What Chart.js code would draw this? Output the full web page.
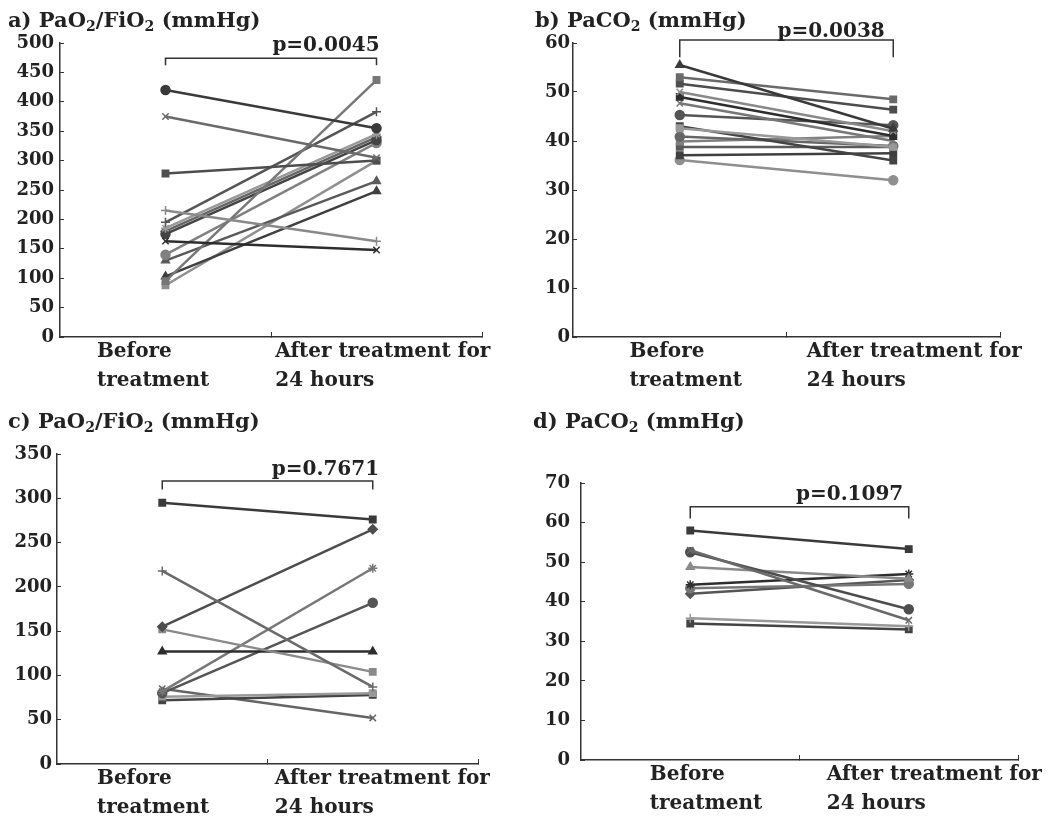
<!DOCTYPE html>
<html>
<head>
<meta charset="utf-8">
<script src="https://cdn.jsdelivr.net/npm/chart.js@4.4.1/dist/chart.umd.min.js"></script>
<style>
  body { margin: 0; background: #fff; }
  #wrap { position: relative; width: 1048px; height: 820px; }
  .panel { position: absolute; }
  .title {
    position: absolute;
    font-family: "DejaVu Serif", serif;
    font-weight: bold;
    font-size: 21px;
    color: #222;
    white-space: nowrap;
  }
  .title sub { font-size: 14px; vertical-align: -4px; line-height: 0; }
</style>
</head>
<body>
<div id="wrap">
  <div class="panel" style="left:0;top:0;width:520px;height:400px"><canvas id="chartA"></canvas></div>
  <div class="panel" style="left:520px;top:0;width:528px;height:400px"><canvas id="chartB"></canvas></div>
  <div class="panel" style="left:0;top:400px;width:520px;height:420px"><canvas id="chartC"></canvas></div>
  <div class="panel" style="left:520px;top:400px;width:528px;height:420px"><canvas id="chartD"></canvas></div>

  <div class="title" style="left:8px;top:7px">a) PaO<sub>2</sub>/FiO<sub>2</sub> (mmHg)</div>
  <div class="title" style="left:535px;top:7px">b) PaCO<sub>2</sub> (mmHg)</div>
  <div class="title" style="left:8px;top:408px">c) PaO<sub>2</sub>/FiO<sub>2</sub> (mmHg)</div>
  <div class="title" style="left:533px;top:408px">d) PaCO<sub>2</sub> (mmHg)</div>
</div>

<script>
// x categories (before / after), labels under the axis
const xLabels = [["Before", "treatment"], ["After treatment for", "24 hours"]];
const timePoints = [1, 3];

// a) PaO2/FiO2, group 1
const beforeA = [420, 375, 278, 215, 163, 95, 195, 185, 175, 180, 140, 130, 103, 88];
const afterA  = [355, 305, 300, 163, 148, 437, 383, 345, 335, 340, 330, 265, 248, 300];
const pValueA = "p=0.0045";
const yTicksA = [0, 50, 100, 150, 200, 250, 300, 350, 400, 450, 500];

// b) PaCO2, group 1
const beforeB = [55.5, 53, 51.7, 50, 49, 47.7, 45.3, 42.6, 43, 40.9, 39.9, 38.8, 37.1, 36.1];
const afterB  = [42.5, 48.5, 46.4, 42, 41, 40, 43.2, 38.8, 36, 39, 41, 38.8, 37.5, 32];
const pValueB = "p=0.0038";
const yTicksB = [0, 10, 20, 30, 40, 50, 60];

// c) PaO2/FiO2, group 2
const beforeC = [295, 218, 155, 152, 127, 82, 80, 76, 72, 85];
const afterC  = [276, 87, 265, 104, 127, 221, 182, 80, 78, 52];
const pValueC = "p=0.7671";
const yTicksC = [0, 50, 100, 150, 200, 250, 300, 350];

// d) PaCO2, group 2
const beforeD = [58, 53, 52.5, 48.8, 44.3, 43.4, 42, 35.8, 34.5];
const afterD  = [53.3, 35.3, 38.1, 45.8, 47, 44.5, 45.5, 33.8, 33];
const pValueD = "p=0.1097";
const yTicksD = [0, 10, 20, 30, 40, 50, 60, 70];

// marker shapes per patient
const markersA = ["circle", "crossRot", "rect", "cross", "crossRot", "rect", "cross",
                  "star", "circle", "rectRot", "circle", "triangle", "triangle", "rect"];
const markersB = ["triangle", "rect", "rect", "crossRot", "rect", "crossRot", "circle",
                  "rect", "rect", "circle", "rect", "rect", "rect", "circle"];
const markersC = ["rect", "cross", "rectRot", "rect", "triangle", "star", "circle", "rect", "rect", "crossRot"];
const markersD = ["rect", "crossRot", "circle", "triangle", "star", "circle", "rectRot", "cross", "rect"];

const greys = ["#3a3a3a", "#6a6a6a", "#4d4d4d", "#8a8a8a", "#2e2e2e", "#777777", "#555555",
               "#999999", "#444444", "#666666", "#808080", "#5a5a5a", "#3f3f3f", "#8f8f8f"];

const FONT = "'DejaVu Serif', serif";
const INK = "#222";

// bracket with p value above the two groups
const bracketPlugin = {
  id: "bracket",
  afterDraw(chart, args, opts) {
    const { ctx, scales } = chart;
    const x1 = scales.x.getPixelForValue(1);
    const x2 = scales.x.getPixelForValue(3);
    const yt = scales.y.getPixelForValue(opts.top);
    const yb = scales.y.getPixelForValue(opts.end);
    ctx.save();
    ctx.strokeStyle = "#333";
    ctx.lineWidth = 1.5;
    ctx.beginPath();
    ctx.moveTo(x1, yb);
    ctx.lineTo(x1, yt);
    ctx.lineTo(x2, yt);
    ctx.lineTo(x2, yb);
    ctx.stroke();
    ctx.fillStyle = INK;
    ctx.font = "bold 20px " + FONT;
    ctx.textAlign = "right";
    ctx.textBaseline = "alphabetic";
    ctx.fillText(opts.text, scales.x.getPixelForValue(opts.textX), yt - opts.gap);
    ctx.restore();
  }
};

function makeChart(id, before, after, markers, yTicks, p, box) {
  const datasets = before.map((b, i) => ({
    data: [{ x: timePoints[0], y: b }, { x: timePoints[1], y: after[i] }],
    borderColor: greys[i % greys.length],
    backgroundColor: greys[i % greys.length],
    borderWidth: 2.5,
    pointStyle: markers[i],
    pointRadius: 4.5,
    pointBorderWidth: 1.5
  }));
  const step = yTicks[1] - yTicks[0];
  const tickVals = [box.lab[0], 2, box.lab[1], 4];

  new Chart(document.getElementById(id), {
    type: "line",
    data: { datasets },
    options: {
      responsive: true,
      maintainAspectRatio: false,
      animation: false,
      layout: { padding: { left: 0, right: box.right, top: box.top, bottom: 0 } },
      plugins: {
        legend: { display: false },
        tooltip: { enabled: false },
        bracket: { top: box.bTop, end: box.bEnd, text: p, textX: box.textX, gap: box.gap }
      },
      scales: {
        x: {
          type: "linear",
          min: 0,
          max: 4,
          afterBuildTicks: (s) => { s.ticks = tickVals.map((v) => ({ value: v })); },
          afterFit: (s) => { s.height = box.xh; },
          border: { display: true, color: "#333", width: 1.5 },
          grid: {
            drawOnChartArea: false,
            drawTicks: true,
            tickLength: -5,
            color: (c) => (c.tick && (c.tick.value === 2 || c.tick.value === 4)) ? "#333" : "rgba(0,0,0,0)"
          },
          ticks: {
            autoSkip: false,
            maxRotation: 0,
            minRotation: 0,
            align: "start",
            padding: 5,
            color: INK,
            font: { family: FONT, size: 20, weight: "bold", lineHeight: 1.45 },
            callback: (v, i) => (i === 0 ? xLabels[0] : i === 2 ? xLabels[1] : "")
          }
        },
        y: {
          min: yTicks[0],
          max: yTicks[yTicks.length - 1],
          afterFit: (s) => { s.width = box.left; },
          border: { display: true, color: "#333", width: 1.5 },
          grid: { drawOnChartArea: false, drawTicks: true, tickLength: -4, color: "#333" },
          ticks: {
            stepSize: step,
            padding: 4 + box.ygap,
            color: INK,
            font: { family: FONT, size: 18, weight: "bold" }
          }
        }
      }
    },
    plugins: [bracketPlugin]
  });
}

makeChart("chartA", beforeA, afterA, markersA, yTicksA, pValueA,
  { left: 60, right: 38, top: 43, xh: 63, lab: [0.35, 2.04], bTop: 474, bEnd: 462, textX: 3.03, gap: 7, ygap: 6 });
makeChart("chartB", beforeB, afterB, markersB, yTicksB, pValueB,
  { left: 53, right: 48, top: 43, xh: 63, lab: [0.53, 2.19], bTop: 60.6, bEnd: 57.1, textX: 2.92, gap: 3, ygap: 3 });
makeChart("chartC", beforeC, afterC, markersC, yTicksC, pValueC,
  { left: 57, right: 42, top: 54, xh: 56, lab: [0.38, 2.07], bTop: 319.5, bEnd: 310, textX: 3.06, gap: 6, ygap: 5 });
makeChart("chartD", beforeD, afterD, markersD, yTicksD, pValueD,
  { left: 61, right: 30, top: 83, xh: 60, lab: [0.63, 2.25], bTop: 64, bEnd: 61, textX: 2.95, gap: 7, ygap: 11 });
</script>
</body>
</html>
